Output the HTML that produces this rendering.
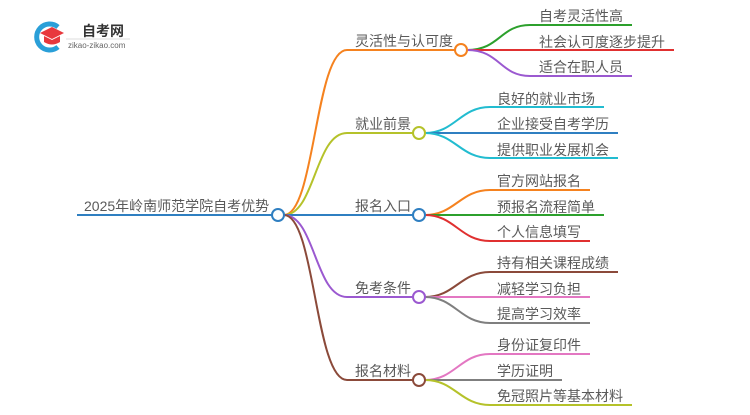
<!DOCTYPE html><html><head><meta charset="utf-8"><style>body{margin:0;background:#fff}svg text{font-family:"Liberation Sans","Noto Sans CJK SC",sans-serif;font-size:14px;fill:#5a5a5a}</style></head><body>
<svg width="750" height="410" xmlns="http://www.w3.org/2000/svg" fill="none" stroke-width="2">
<path d="M58 27 A13 13 0 1 0 58 47" stroke="#2a9fd8" stroke-width="5"/>
<path d="M40 33 L52 27 L64 33 L52 39 Z" fill="#e8383d" stroke="none"/>
<path d="M44 36 v6 q8 5 16 0 v-6 l-8 4z" fill="#e8383d" stroke="none"/>
<text x="82" y="36" style="font-size:14px;font-weight:bold;fill:#333">自考网</text>
<line x1="66" y1="39" x2="130" y2="39" stroke="#ddd" stroke-width="1"/>
<text x="68" y="48" style="font-size:8px;fill:#666">zikao-zikao.com</text>
<line x1="77" y1="215" x2="272" y2="215" stroke="#2f7fc1"/>
<text x="84" y="211">2025年岭南师范学院自考优势</text>
<path d="M284 215 C315 215 315 50 347 50 H455" stroke="#f5821f"/>
<path d="M284 215 C315 215 315 133 347 133 H413" stroke="#b5c22a"/>
<path d="M284 215 H413" stroke="#2f7fc1"/>
<path d="M284 215 C315 215 315 297 347 297 H413" stroke="#9b59d0"/>
<path d="M284 215 C315 215 315 380 347 380 H413" stroke="#8b4a3a"/>
<circle cx="278" cy="215" r="6" fill="#fff" stroke="#2f7fc1"/>
<text x="355" y="46">灵活性与认可度</text>
<text x="355" y="129">就业前景</text>
<text x="355" y="211">报名入口</text>
<text x="355" y="293">免考条件</text>
<text x="355" y="376">报名材料</text>
<path d="M467 50 C500 50 500 25 530 25 H632" stroke="#2ca02c"/>
<path d="M467 50 H674" stroke="#e03030"/>
<path d="M467 50 C500 50 500 76 530 76 H632" stroke="#9b59d0"/>
<circle cx="461" cy="50" r="6" fill="#fff" stroke="#f5821f"/>
<text x="539" y="21">自考灵活性高</text><text x="539" y="47">社会认可度逐步提升</text><text x="539" y="72">适合在职人员</text>
<path d="M425 133 C455 133 460 107 490 107 H604" stroke="#22bcd0"/>
<path d="M425 133 H618" stroke="#2f7fc1"/>
<path d="M425 133 C455 133 460 158 490 158 H618" stroke="#22bcd0"/>
<circle cx="419" cy="133" r="6" fill="#fff" stroke="#b5c22a"/>
<text x="497" y="104">良好的就业市场</text><text x="497" y="129">企业接受自考学历</text><text x="497" y="155">提供职业发展机会</text>
<path d="M425 215 C455 215 460 190 490 190 H590" stroke="#f5821f"/>
<path d="M425 215 H604" stroke="#2ca02c"/>
<path d="M425 215 C455 215 460 241 490 241 H590" stroke="#e03030"/>
<circle cx="419" cy="215" r="6" fill="#fff" stroke="#2f7fc1"/>
<text x="497" y="186">官方网站报名</text><text x="497" y="212">预报名流程简单</text><text x="497" y="237">个人信息填写</text>
<path d="M425 297 C455 297 460 272 490 272 H618" stroke="#8b4a3a"/>
<path d="M425 297 H590" stroke="#e377c2"/>
<path d="M425 297 C455 297 460 323 490 323 H590" stroke="#7f7f7f"/>
<circle cx="419" cy="297" r="6" fill="#fff" stroke="#9b59d0"/>
<text x="497" y="268">持有相关课程成绩</text><text x="497" y="294">减轻学习负担</text><text x="497" y="319">提高学习效率</text>
<path d="M425 380 C455 380 460 354 490 354 H590" stroke="#e377c2"/>
<path d="M425 380 H562" stroke="#7f7f7f"/>
<path d="M425 380 C455 380 460 405 490 405 H632" stroke="#b5c22a"/>
<circle cx="419" cy="380" r="6" fill="#fff" stroke="#8b4a3a"/>
<text x="497" y="350">身份证复印件</text><text x="497" y="376">学历证明</text><text x="497" y="401">免冠照片等基本材料</text>
</svg></body></html>
